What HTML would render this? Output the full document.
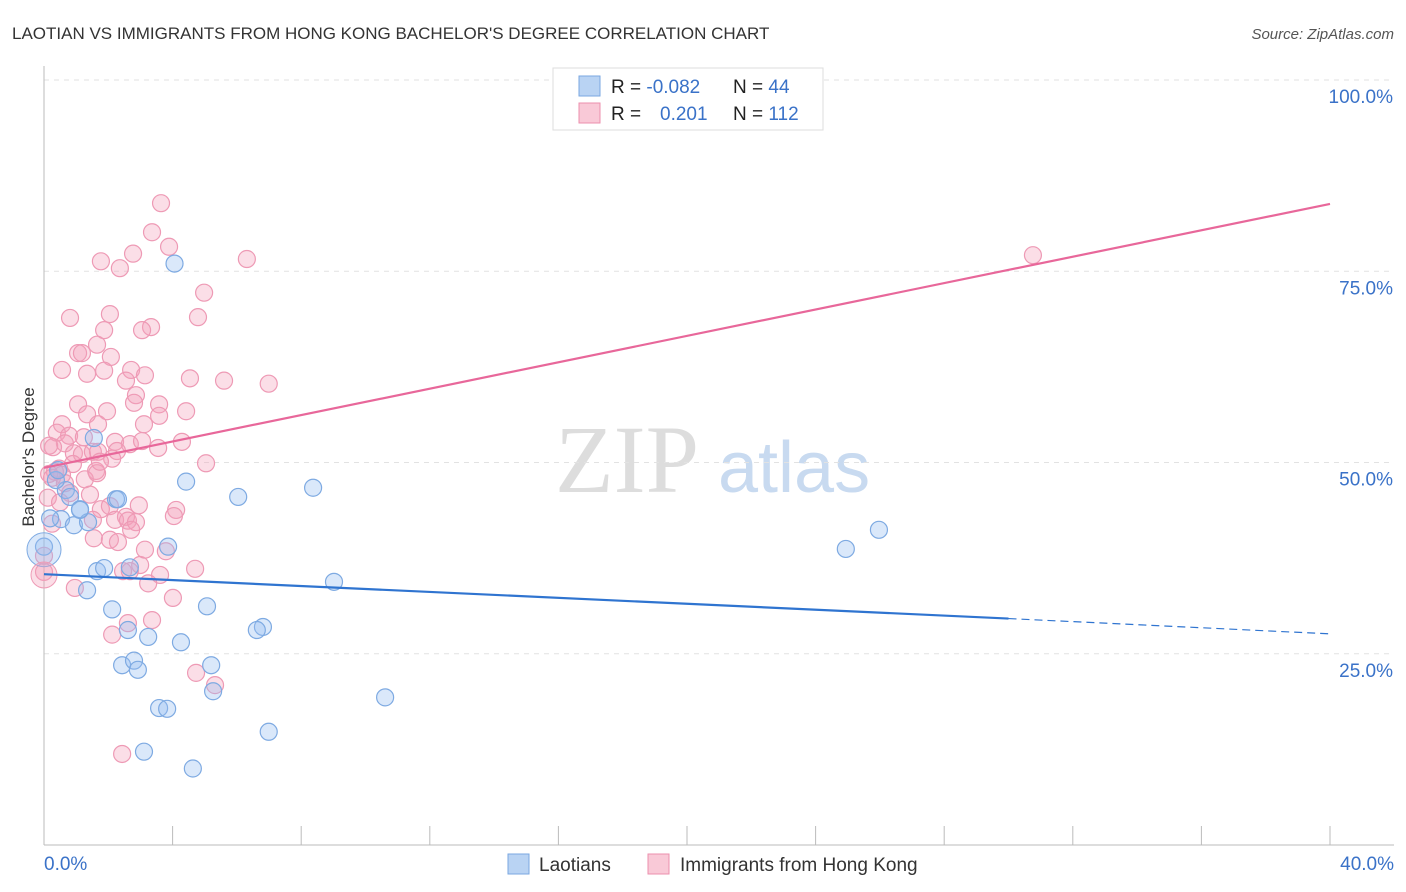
<!DOCTYPE html>
<html><head><meta charset="utf-8">
<style>
body{margin:0;background:#fff;font-family:"Liberation Sans",sans-serif;}
svg{display:block}
</style></head>
<body>
<svg id="chart" width="1406" height="892">
<text x="12" y="39" font-size="17" fill="#333">LAOTIAN VS IMMIGRANTS FROM HONG KONG BACHELOR'S DEGREE CORRELATION CHART</text>
<text x="1394" y="39" font-size="15" fill="#555" font-style="italic" text-anchor="end">Source: ZipAtlas.com</text>
<text x="555" y="492" font-size="96" fill="#ddd" font-family="Liberation Serif">ZIP</text>
<text x="718" y="492" font-size="72" fill="#c8daf0">atlas</text>
<g id="grid"></g>
<g id="axes"></g>
<g id="points"></g>
<g id="trend"></g>
<text transform="translate(34,457) rotate(-90)" font-size="17" fill="#333" text-anchor="middle">Bachelor's Degree</text>
<g>
<rect x="553" y="68" width="270" height="62" fill="#fff" stroke="#ddd"/>
<rect x="579" y="76" width="21" height="20" fill="#b9d3f3" stroke="#7aa7e0"/>
<rect x="579" y="103" width="21" height="20" fill="#f9c9d7" stroke="#ec8fae"/>
<text x="611" y="93" font-size="19" fill="#222">R = <tspan fill="#3a72c8">-0.082</tspan></text>
<text x="733" y="93" font-size="19" fill="#222">N = <tspan fill="#3a72c8">44</tspan></text>
<text x="611" y="120" font-size="19" fill="#222">R = </text>
<text x="660" y="120" font-size="19" fill="#3a72c8">0.201</text>
<text x="733" y="120" font-size="19" fill="#222">N = <tspan fill="#3a72c8">112</tspan></text>
</g>
<g>
<rect x="508" y="854" width="21" height="20" fill="#b9d3f3" stroke="#7aa7e0"/>
<text x="539" y="871" font-size="19" fill="#333">Laotians</text>
<rect x="648" y="854" width="21" height="20" fill="#f9c9d7" stroke="#ec8fae"/>
<text x="680" y="871" font-size="19" fill="#333">Immigrants from Hong Kong</text>
</g>
</svg>
<script>
const xTicks=[0,4,8,12,16,20,24,28,32,36,40];
const yTicks=[25,50,75,100];
const blueX=[4.06,4.42,6.04,8.37,24.94,25.97,9.02,5.07,6.81,6.62,4.26,3.24,2.61,2.12,2.43,2.80,2.92,5.20,5.26,3.58,3.83,3.11,4.63,6.99,10.61,1.65,1.87,1.34,2.67,3.86,2.24,2.30,0.68,0.81,1.12,0.53,0.93,1.37,0.19,0.0,1.55,1.12,0.37,0.44];
const blueY=[76.0,47.5,45.5,46.7,38.7,41.2,34.4,31.2,28.5,28.1,26.5,27.2,28.1,30.8,23.5,24.1,22.9,23.5,20.1,17.9,17.8,12.2,10.0,14.8,19.3,35.8,36.2,33.3,36.3,39.0,45.2,45.2,46.4,45.5,43.9,42.6,41.8,42.2,42.7,39.0,53.2,43.8,47.7,49.0];
const pinkX=[3.64,3.36,3.89,1.77,2.77,2.36,6.31,4.98,30.76,2.05,0.81,4.79,3.33,3.05,1.87,1.65,2.08,1.06,1.18,0.56,1.87,1.34,2.71,3.14,2.55,4.54,5.60,6.99,2.86,3.58,2.80,1.06,1.96,4.42,3.58,1.34,0.56,1.68,3.11,0.40,0.78,0.65,1.24,2.21,2.67,4.29,3.05,3.55,0.28,0.93,1.18,1.52,1.68,2.27,2.12,0.90,0.47,0.34,0.56,5.04,1.62,0.16,0.25,1.27,1.65,0.65,0.12,0.81,1.43,1.77,2.05,2.95,4.11,4.04,1.52,2.21,2.55,2.61,2.86,0.25,2.71,1.55,2.05,2.30,3.79,0.0,2.99,2.46,4.70,3.61,3.24,0.96,4.01,3.36,2.61,2.12,4.73,5.32,2.43,0.0,2.67,0.50,0.16,1.74,3.14];
const pinkY=[83.9,80.1,78.2,76.3,77.3,75.4,76.6,72.2,77.1,69.4,68.9,69.0,67.7,67.3,67.3,65.4,63.8,64.3,64.3,62.1,62.0,61.6,62.1,61.4,60.7,61.0,60.7,60.3,58.8,57.6,57.8,57.6,56.7,56.7,56.1,56.3,55.0,55.0,55.0,53.9,53.5,52.5,53.3,52.7,52.4,52.7,52.8,51.9,52.0,51.2,51.1,51.4,51.4,51.5,50.5,49.8,49.2,48.8,48.4,49.9,48.9,48.5,48.0,47.8,48.6,47.3,45.4,46.0,45.8,43.9,44.3,44.4,43.8,43.0,42.5,42.5,42.9,42.4,42.2,42.0,41.2,40.1,39.9,39.6,38.4,37.8,36.6,35.8,36.1,35.3,34.2,33.6,32.3,29.4,29.0,27.5,22.5,20.9,11.9,35.7,35.8,44.8,52.2,50.1,38.6];
const X0=44,X1=1330,Y0=845,Y1=80;
const xs=v=>X0+(X1-X0)*v/40;
const ys=v=>Y0-(Y0-Y1)*v/100;
const NS="http://www.w3.org/2000/svg";
function mk(tag,attrs,parent){const e=document.createElementNS(NS,tag);for(const k in attrs)e.setAttribute(k,attrs[k]);document.getElementById(parent).appendChild(e);return e;}
yTicks.forEach(t=>{
  const g=mk('line',{x1:X0,x2:1394,y1:ys(t),y2:ys(t),stroke:'#e2e2e2','stroke-dasharray':'5,5'},'grid');
  
  
  const l=mk('text',{x:1393,y:ys(t)+23,'font-size':19,fill:'#3a72c8','text-anchor':'end'},'axes');
  l.textContent=t.toFixed(1)+'%';
  
  
});
const ax=mk('line',{x1:X0,x2:X0,y1:66,y2:Y0,stroke:'#bbb'},'axes');


const bx=mk('line',{x1:X0,x2:1394,y1:Y0,y2:Y0,stroke:'#bbb'},'axes');


xTicks.forEach(t=>{
  const tk=mk('line',{x1:xs(t),x2:xs(t),y1:Y0,y2:Y0-19,stroke:'#bbb'},'axes');
  
  
});
[[0,'start',44],[40,'end',1394]].forEach(([t,a,x])=>{
  const l=mk('text',{x:x,y:870,'font-size':19,fill:'#3a72c8','text-anchor':a},'axes');
  l.textContent=t.toFixed(1)+'%';
  
  
});
pinkX.forEach((v,i)=>{
  const c=mk('circle',{cx:xs(v),cy:ys(pinkY[i]),r:8.5,fill:'rgba(244,160,186,0.35)',stroke:'#ee9ab5','stroke-width':1.2},'points');
  
  
});
blueX.forEach((v,i)=>{
  const c=mk('circle',{cx:xs(v),cy:ys(blueY[i]),r:8.5,fill:'rgba(150,190,240,0.35)',stroke:'#7eaae2','stroke-width':1.2},'points');
  
  
});
const bb=mk('circle',{cx:xs(0),cy:ys(38.6),r:17,fill:'rgba(150,190,240,0.35)',stroke:'#7eaae2'},'points');


const pb=mk('circle',{cx:xs(0),cy:ys(35.3),r:13,fill:'rgba(244,160,186,0.35)',stroke:'#ee9ab5'},'points');


const b1=mk('line',{x1:xs(0),y1:ys(35.4),x2:xs(30),y2:ys(29.6),stroke:'#2f74d0','stroke-width':2.2},'trend');


const b2=mk('line',{x1:xs(30),y1:ys(29.6),x2:xs(40),y2:ys(27.6),stroke:'#2f74d0','stroke-width':1.2,'stroke-dasharray':'8,5'},'trend');


const p1=mk('line',{x1:xs(0),y1:ys(49.3),x2:xs(40),y2:ys(83.8),stroke:'#e8679a','stroke-width':2.2},'trend');


</script>
</body></html>
